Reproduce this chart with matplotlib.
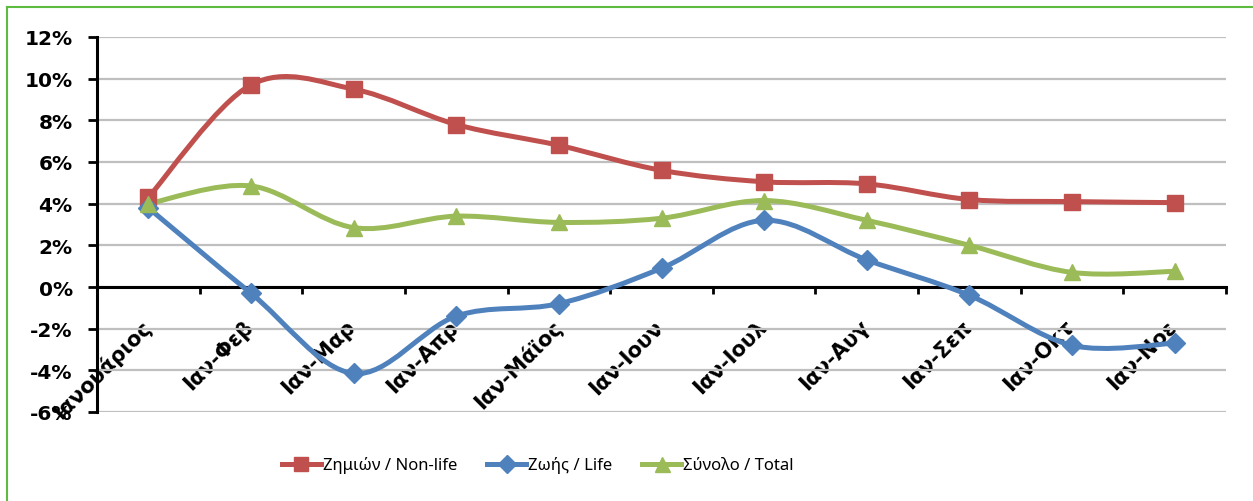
import numpy as np
import matplotlib
matplotlib.use('Agg')
import matplotlib.pyplot as plt
from matplotlib.path import Path
from matplotlib.patches import PathPatch
from matplotlib.lines import Line2D
import matplotlib.transforms as mtransforms

plt.rcParams['font.family'] = ['DejaVu Sans']

# --- data (percent) ---
categories = ['Ιανουάριος', 'Ιαν-Φεβ', 'Ιαν-Μαρ', 'Ιαν-Απρ', 'Ιαν-Μάϊος', 'Ιαν-Ιουν',
              'Ιαν-Ιουλ', 'Ιαν-Αυγ', 'Ιαν-Σεπ', 'Ιαν-Οκτ', 'Ιαν-Νοε']
nonlife = [4.3, 9.7, 9.5, 7.8, 6.8, 5.6, 5.05, 4.95, 4.2, 4.1, 4.05]
life = [3.8, -0.3, -4.15, -1.4, -0.8, 0.9, 3.2, 1.3, -0.4, -2.8, -2.7]
total = [4.0, 4.85, 2.85, 3.4, 3.1, 3.3, 4.15, 3.2, 2.0, 0.7, 0.75]
series_names = ['Ζημιών / Non-life', 'Ζωής / Life', 'Σύνολο / Total']

colors = ['#C0504D', '#4F81BD', '#9BBB59']
markers = ['s', 'D', '^']
msizes = [11, 10, 12]


def smooth_path(xs, ys, t=1.0 / 6):
    """Excel-like smoothed line as cubic bezier path through the points."""
    pts = np.column_stack([xs, ys]).astype(float)
    n = len(pts)
    verts = [pts[0]]
    codes = [Path.MOVETO]
    for i in range(n - 1):
        p_prev = pts[i - 1] if i > 0 else pts[i]
        p_next2 = pts[i + 2] if i + 2 < n else pts[i + 1]
        c1 = pts[i] + (pts[i + 1] - p_prev) * t
        c2 = pts[i + 1] - (p_next2 - pts[i]) * t
        verts += [c1, c2, pts[i + 1]]
        codes += [Path.CURVE4] * 3
    return Path(verts, codes)


W, H = 1253, 502
fig = plt.figure(figsize=(W / 100, H / 100), dpi=100)
ax = fig.add_axes([97 / W, 1 - 413 / H, (1226 - 97) / W, (413 - 38) / H])

x = np.arange(len(categories))
for vals, c, m, ms in zip([nonlife, life, total], colors, markers, msizes):
    ax.add_patch(PathPatch(smooth_path(x, vals), fill=False, edgecolor=c,
                           lw=3.6, capstyle='round', joinstyle='round', zorder=3))
    ax.plot(x, vals, ls='none', marker=m, ms=ms, color=c, zorder=4)

ax.set_xlim(-0.5, len(categories) - 0.5)
ax.set_ylim(-6, 12)
ax.set_yticks(np.arange(-6, 13, 2))
ax.set_yticklabels(['%d%%' % v for v in np.arange(-6, 13, 2)],
                   fontsize=14.5, fontweight='bold')
ax.yaxis.grid(True, color='#BFBFBF', lw=1.6)
ax.set_axisbelow(True)

ax.spines['top'].set_visible(False)
ax.spines['right'].set_visible(False)
ax.spines['bottom'].set_position(('data', 0))
ax.spines['bottom'].set_linewidth(2.2)
ax.spines['left'].set_linewidth(2.2)
ax.tick_params(axis='y', length=6.5, width=2, direction='out', pad=11)

ax.set_xticks(x)
ax.set_xticks(np.arange(-0.5, len(categories), 1), minor=True)
ax.tick_params(axis='x', which='major', length=0, pad=0)
ax.tick_params(axis='x', which='minor', length=5, width=2, direction='out')
ax.set_xticklabels(categories, rotation=45, ha='right', va='top',
                   rotation_mode='anchor', fontsize=15, fontweight='bold')
offset = mtransforms.ScaledTranslation(-8 / 100, -29 / 100, fig.dpi_scale_trans)
for lbl in ax.get_xticklabels():
    lbl.set_transform(lbl.get_transform() + offset)

handles = [Line2D([], [], color=c, lw=3.6, marker=m, ms=ms * 0.9)
           for c, m, ms in zip(colors, markers, msizes)]
fig.legend(handles, series_names, loc='center', ncol=3,
           bbox_to_anchor=(538 / W, 1 - 466 / H), frameon=False,
           prop={'family': 'Noto Sans', 'size': 12},
           handlelength=2.3, handletextpad=0.15, columnspacing=1.8)

# green chart border (top and left edges visible)
bc = '#5DBB3F'
fig.add_artist(Line2D([7 / W, 1], [1 - 8 / H, 1 - 8 / H], color=bc, lw=1.5,
                      transform=fig.transFigure))
fig.add_artist(Line2D([7 / W, 7 / W], [0, 1 - 8 / H], color=bc, lw=1.5,
                      transform=fig.transFigure))

fig.savefig('out.png', dpi=100)
